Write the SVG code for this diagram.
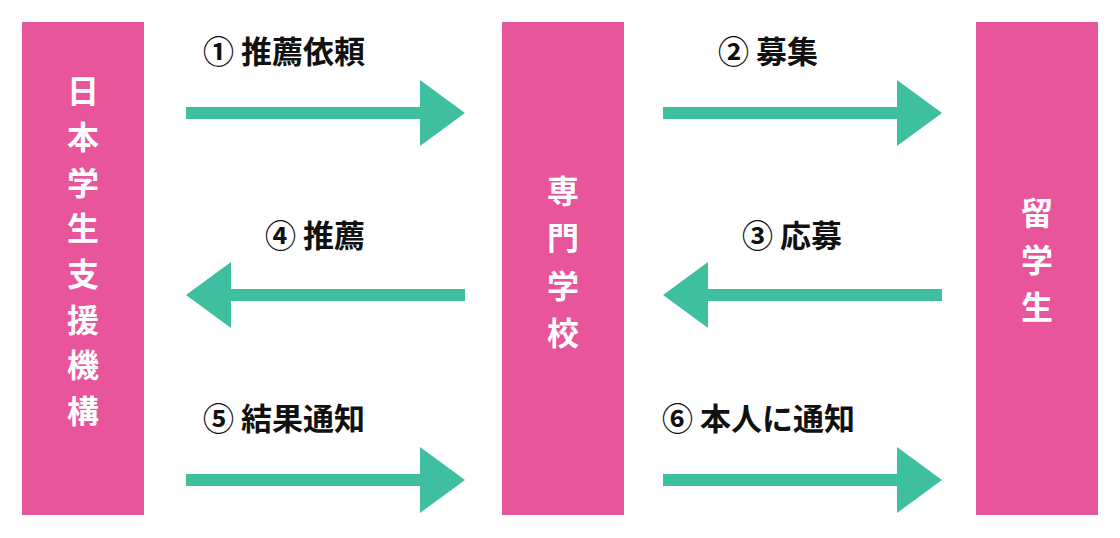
<svg xmlns="http://www.w3.org/2000/svg" width="1120" height="538" viewBox="0 0 1120 538">
<style>
.bar{fill:#E8559A}
.arr{fill:#3DBFA0}
.v{font-family:"Noto Sans CJK JP","Noto Sans",sans-serif;font-weight:700;font-size:32px;fill:#fff;text-anchor:middle}
.lbl{font-family:"Noto Sans CJK JP","Noto Sans",sans-serif;font-weight:700;font-size:31px;fill:#111}
</style>
<rect width="1120" height="538" fill="#fff"/>
<g id="node-jasso"><rect class="bar" x="22" y="22" width="122" height="493"/>
<text class="v" x="83"><tspan x="83" y="103">日</tspan><tspan x="83" y="149">本</tspan><tspan x="83" y="195">学</tspan><tspan x="83" y="240">生</tspan><tspan x="83" y="286">支</tspan><tspan x="83" y="332">援</tspan><tspan x="83" y="377">機</tspan><tspan x="83" y="423">構</tspan></text></g>
<g id="node-school"><rect class="bar" x="502" y="22" width="122" height="493"/>
<text class="v" x="563"><tspan x="563" y="203">専</tspan><tspan x="563" y="250">門</tspan><tspan x="563" y="298">学</tspan><tspan x="563" y="345">校</tspan></text></g>
<g id="node-student"><rect class="bar" x="976" y="22" width="122" height="493"/>
<text class="v" x="1037"><tspan x="1037" y="225">留</tspan><tspan x="1037" y="272">学</tspan><tspan x="1037" y="319">生</tspan></text></g>
<g id="connectors">
<polygon class="arr" points="186,107 420,107 420,80 465,113 420,146 420,119 186,119"/>
<polygon class="arr" points="663,107 897,107 897,80 942,113 897,146 897,119 663,119"/>
<polygon class="arr" points="465,289 231,289 231,262 186,295 231,328 231,301 465,301"/>
<polygon class="arr" points="942,289 708,289 708,262 663,295 708,328 708,301 942,301"/>
<polygon class="arr" points="186,474 420,474 420,447 465,480 420,513 420,486 186,486"/>
<polygon class="arr" points="663,474 897,474 897,447 942,480 897,513 897,486 663,486"/>
<text class="lbl" x="203" y="63">① 推薦依頼</text>
<text class="lbl" x="718" y="63">② 募集</text>
<text class="lbl" x="265" y="247">④ 推薦</text>
<text class="lbl" x="742" y="247">③ 応募</text>
<text class="lbl" x="203" y="430">⑤ 結果通知</text>
<text class="lbl" x="662" y="430">⑥ 本人に通知</text>
</g>
</svg>
